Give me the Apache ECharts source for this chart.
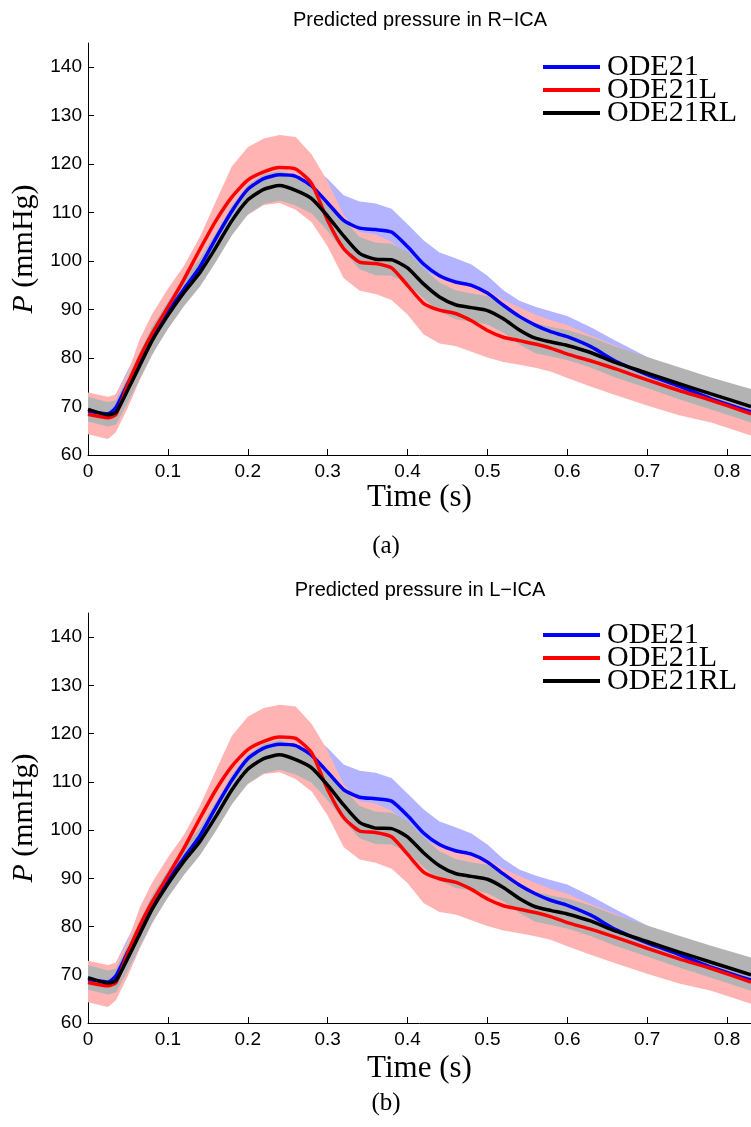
<!DOCTYPE html>
<html><head><meta charset="utf-8">
<script src="https://cdn.jsdelivr.net/npm/echarts@6/dist/echarts.min.js"></script>
<style>html,body{margin:0;padding:0;background:#fff}#c{width:751px;height:1127px}</style>
</head><body><div id="c"></div>
<script>
// ---- data ----
const time = [0, 0.025, 0.035, 0.05, 0.065, 0.08, 0.1, 0.12, 0.14, 0.16, 0.18, 0.2, 0.22, 0.24, 0.26, 0.28, 0.3, 0.32, 0.34, 0.36, 0.38, 0.4, 0.42, 0.44, 0.46, 0.48, 0.5, 0.52, 0.54, 0.56, 0.58, 0.6, 0.63, 0.66, 0.7, 0.74, 0.78, 0.83];

const ode21 = [69.0, 68.5, 69.8, 74.8, 79.5, 84.2, 89.5, 94.2, 98.8, 104.7, 110.3, 114.8, 117.0, 117.8, 117.5, 115.5, 112.0, 108.4, 106.8, 106.5, 106.0, 103.0, 99.4, 97.0, 95.7, 95.0, 93.4, 90.9, 88.6, 86.8, 85.4, 84.4, 82.3, 79.4, 76.6, 74.2, 71.6, 68.9];
const ode21Upper = [71.5, 71.0, 72.6, 77.6, 82.2, 87.0, 92.2, 97.0, 101.6, 107.6, 113.4, 118.0, 120.3, 121.1, 121.0, 119.8, 117.0, 113.6, 112.3, 111.9, 110.8, 107.6, 104.3, 101.8, 100.6, 99.3, 97.0, 94.0, 91.8, 90.6, 89.6, 88.7, 86.3, 83.6, 80.2, 77.6, 74.8, 72.0];
const ode21Lower = [66.5, 66.0, 67.0, 71.6, 76.3, 80.9, 86.1, 90.8, 95.3, 101.0, 106.8, 111.4, 113.6, 114.4, 114.1, 112.0, 108.3, 104.6, 102.8, 102.4, 101.9, 98.8, 95.3, 93.0, 91.8, 91.2, 89.6, 87.2, 84.9, 83.1, 81.6, 80.4, 78.5, 75.8, 73.1, 70.9, 68.5, 65.9];

const ode21L = [68.4, 67.7, 68.4, 74.6, 80.2, 85.0, 90.5, 96.2, 102.4, 108.3, 113.2, 116.7, 118.4, 119.3, 119.0, 116.0, 108.4, 102.6, 99.8, 99.5, 98.6, 95.0, 91.3, 89.9, 89.2, 87.7, 85.7, 84.3, 83.6, 82.9, 82.0, 80.8, 79.4, 77.8, 75.5, 73.3, 71.3, 68.5];
const ode21LUpper = [72.9, 72.0, 72.5, 77.0, 84.0, 89.0, 94.3, 99.0, 105.0, 112.3, 119.5, 123.5, 125.3, 126.0, 125.6, 122.0, 116.5, 109.5, 106.0, 105.5, 104.0, 101.0, 98.0, 96.5, 95.8, 95.0, 94.0, 92.0, 90.5, 89.0, 87.8, 86.8, 84.6, 82.6, 79.8, 77.6, 75.6, 73.4];
const ode21LLower = [64.3, 63.3, 64.7, 69.8, 75.5, 80.5, 86.7, 91.3, 96.2, 102.0, 106.0, 109.5, 111.6, 112.0, 110.6, 108.0, 103.0, 96.5, 93.9, 93.2, 92.0, 89.0, 84.9, 83.0, 82.5, 81.3, 80.1, 79.2, 78.6, 78.0, 77.2, 75.9, 74.1, 72.4, 70.2, 68.2, 66.7, 64.0];

const ode21RL = [69.4, 68.3, 68.8, 73.5, 78.5, 83.5, 88.8, 93.5, 97.6, 102.8, 108.3, 112.6, 114.8, 115.6, 114.6, 112.9, 109.3, 105.2, 101.6, 100.4, 100.3, 98.6, 95.3, 92.6, 91.0, 90.4, 89.8, 88.1, 85.8, 84.1, 83.3, 82.6, 81.1, 79.1, 76.9, 74.7, 72.6, 70.0];
const ode21RLUpper = [72.0, 70.9, 71.3, 76.2, 81.3, 86.4, 91.6, 96.3, 100.5, 105.8, 111.4, 115.7, 117.9, 118.6, 117.7, 116.0, 112.5, 108.6, 105.0, 103.8, 103.6, 101.9, 98.4, 95.6, 94.0, 93.3, 92.8, 91.1, 88.9, 87.2, 86.4, 85.8, 84.3, 82.4, 80.2, 78.1, 76.0, 73.6];
const ode21RLLower = [66.9, 65.9, 66.3, 70.9, 75.8, 80.7, 86.0, 90.7, 94.7, 99.8, 105.3, 109.6, 111.8, 112.5, 111.5, 109.8, 106.2, 102.0, 98.3, 97.1, 97.0, 95.4, 92.3, 89.6, 88.0, 87.5, 86.9, 85.2, 82.8, 81.0, 80.3, 79.6, 78.0, 76.0, 73.8, 71.5, 69.4, 66.7];

const xTicks = [0, 0.1, 0.2, 0.3, 0.4, 0.5, 0.6, 0.7, 0.8];
const yTicks = [60, 70, 80, 90, 100, 110, 120, 130, 140];
const seriesNames = ['ODE21', 'ODE21L', 'ODE21RL'];
const panelTitles = ['Predicted pressure in R\u2212ICA', 'Predicted pressure in L\u2212ICA'];
const panelCaptions = ['(a)', '(b)'];

// ---- layout / style ----
const panels = [
  {top: 43, height: 412, titleY: 20, capY: 546, legendTop: 52, nameGap: 26},
  {top: 613, height: 410, titleY: 590, capY: 1103, legendTop: 620, nameGap: 30}
];
const COLORS = ['#0000ff', '#ff0000', '#000000'];
const BAND = ['#b3b3ff', '#ffb3b3', '#b3b3b3'];
const lines = [ode21, ode21L, ode21RL];
const uppers = [ode21Upper, ode21LUpper, ode21RLUpper];
const lowers = [ode21Lower, ode21LLower, ode21RLLower];

const pairs = (ys) => time.map((t, i) => [t, ys[i]]);

function bandRenderer(color) {
  return function (params, api) {
    if (params.dataIndexInside !== 0) return null;
    const n = time.length;
    const lo = [], hi = [];
    for (let j = 0; j < n; j++) {
      lo.push(api.coord([api.value(0, j), api.value(1, j)]));
      hi.push(api.coord([api.value(0, j), api.value(2, j)]));
    }
    const pts = lo.concat(hi.reverse());
    return {
      type: 'polygon',
      shape: {points: pts, smooth: 0},
      style: {fill: color, stroke: null},
      silent: true
    };
  };
}

const grid = [], xAxis = [], yAxis = [], series = [], legend = [], graphic = [];
panels.forEach((p, pi) => {
  grid.push({left: 88, top: p.top, width: 663, height: p.height, containLabel: false, outerBoundsMode: 'none'});
  xAxis.push({
    gridIndex: pi, type: 'value', min: 0, max: 0.83,
    axisLine: {show: true, onZero: false, lineStyle: {color: '#000', width: 1}},
    axisTick: {show: true, inside: true, length: 6, customValues: xTicks, lineStyle: {color: '#000', width: 1}},
    axisLabel: {show: true, customValues: xTicks, color: '#000', fontFamily: 'Liberation Sans', fontSize: 19, margin: 7,
      formatter: v => String(v)},
    splitLine: {show: false},
    name: 'Time (s)', nameLocation: 'middle', nameGap: p.nameGap,
    nameTextStyle: {fontFamily: 'Liberation Serif', fontSize: 31, color: '#000'}
  });
  yAxis.push({
    gridIndex: pi, type: 'value', min: 60, max: 145,
    axisLine: {show: true, onZero: false, lineStyle: {color: '#000', width: 1}},
    axisTick: {show: true, inside: true, length: 6, customValues: yTicks, lineStyle: {color: '#000', width: 1}},
    axisLabel: {show: true, customValues: yTicks, color: '#000', fontFamily: 'Liberation Sans', fontSize: 19, margin: 6},
    splitLine: {show: false},
    name: '{i|P} (mmHg)', nameLocation: 'middle', nameGap: 46, nameRotate: 90,
    nameTextStyle: {fontFamily: 'Liberation Serif', fontSize: 30, color: '#000',
      rich: {i: {fontFamily: 'Liberation Serif', fontStyle: 'italic', fontSize: 30, color: '#000'}}}
  });
  // bands: blue, pink, gray (drawn in that order)
  for (let k = 0; k < 3; k++) {
    series.push({
      type: 'custom', name: 'band' + k, xAxisIndex: pi, yAxisIndex: pi,
      data: time.map((t, i) => [t, lowers[k][i], uppers[k][i]]),
      encode: {x: 0, y: [1, 2]},
      renderItem: bandRenderer(BAND[k]), silent: true, z: 1 + k * 0.1, clip: true
    });
  }
  for (let k = 0; k < 3; k++) {
    series.push({
      type: 'line', name: seriesNames[k], xAxisIndex: pi, yAxisIndex: pi, data: pairs(lines[k]),
      symbol: 'none', smooth: 0.2, lineStyle: {color: COLORS[k], width: 3.5}, itemStyle: {color: COLORS[k]}, z: 3
    });
  }
  legend.push({
    data: seriesNames, orient: 'vertical', left: 543, top: p.legendTop, icon: 'rect', itemWidth: 57, itemHeight: 4, itemGap: -7,
    padding: 0, selectedMode: false,
    textStyle: {fontFamily: 'Liberation Serif', fontSize: 30, color: '#000', padding: [0, 0, 0, 2]}
  });
  graphic.push({
    type: 'text', x: 420, y: p.titleY,
    style: {text: panelTitles[pi], font: '20px "Liberation Sans"', fill: '#000', textAlign: 'center', textVerticalAlign: 'middle', align: 'center', verticalAlign: 'middle'}
  });
  graphic.push({
    type: 'text', x: 386, y: p.capY,
    style: {text: panelCaptions[pi], font: '25px "Liberation Serif"', fill: '#000', textAlign: 'center', textVerticalAlign: 'middle', align: 'center', verticalAlign: 'middle'}
  });
});

const chart = echarts.init(document.getElementById('c'));
chart.setOption({
  backgroundColor: '#fff', animation: false,
  grid, xAxis, yAxis, series, legend, graphic
});
</script></body></html>
